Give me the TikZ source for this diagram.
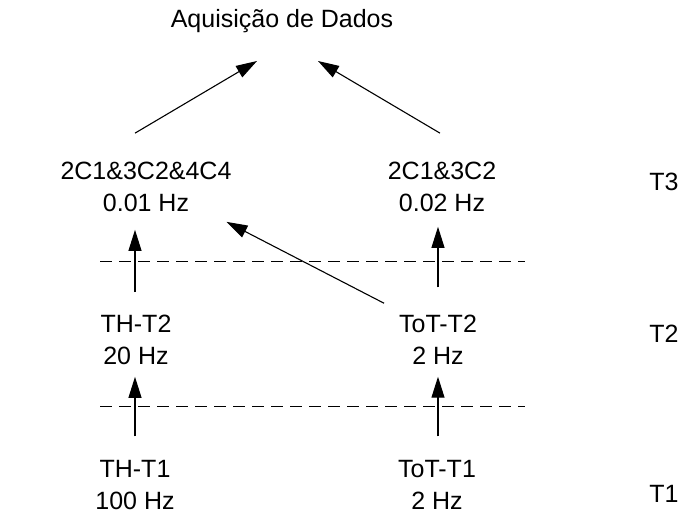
\documentclass[tikz,border=0pt]{standalone}
\usepackage{fontspec}
\setmainfont{Liberation Sans}
\usetikzlibrary{arrows.meta,calc}
\begin{document}
\begin{tikzpicture}[x=1pt,y=-1pt,
  lbl/.style={inner sep=0pt, outer sep=0pt, align=center, font=\fontsize{25}{32}\selectfont},
  arr/.style={line width=1.1pt, -{Triangle[length=21pt,width=13pt]}},
  sepline/.style={line width=1pt, dash pattern=on 12pt off 7pt}]
\useasboundingbox (0,0) rectangle (681,517);

% labels
\node[lbl, anchor=base] (title) at (282,27) {Aquisição de Dados};
\node[lbl] (L3) at (146,187) {2C1\&3C2\&4C4\\0.01 Hz};
\node[lbl] (R3) at (442,187) {2C1\&3C2\\0.02 Hz};
\node[lbl] (L2) at (136,340) {TH-T2\\20 Hz};
\node[lbl] (R2) at (438,340) {ToT-T2\\2 Hz};
\node[lbl] (L1) at (135,485) {TH-T1\\100 Hz};
\node[lbl] (R1) at (437,485) {ToT-T1\\2 Hz};
\node[lbl, anchor=base] (T3) at (664,190) {T3};
\node[lbl, anchor=base] (T2) at (664,342) {T2};
\node[lbl, anchor=base] (T1) at (664,502) {T1};

% separators
\draw[sepline] (100,261) -- (525,261);
\draw[sepline] (100,406) -- (525,406);

% arrows
\draw[arr] ($(L1.north)+(0,-24)$) -- ($(L1.north |- L2.south)+(0,12)$);
\draw[arr] ($(R1.north)+(1,-24)$) -- ($(R1.north |- R2.south)+(1,12)$);
\draw[arr] ($(L2.north)+(-1,-23)$) -- ($(L2.north |- L3.south)+(-1,18)$);
\draw[arr] ($(R2.north)+(0,-28)$) -- ($(R2.north |- R3.south)+(0,15)$);
\draw[arr] ($(R2.north west)+(-15,-12)$) -- ($(L3.south east)+(-5,10)$);
\draw[arr] ($(L3.north)+(-11,-29)$) -- ($(title.base)+(-25,34)$);
\draw[arr] ($(R3.north)+(-2,-29)$) -- ($(title.base)+(36,34)$);
\end{tikzpicture}
\end{document}
